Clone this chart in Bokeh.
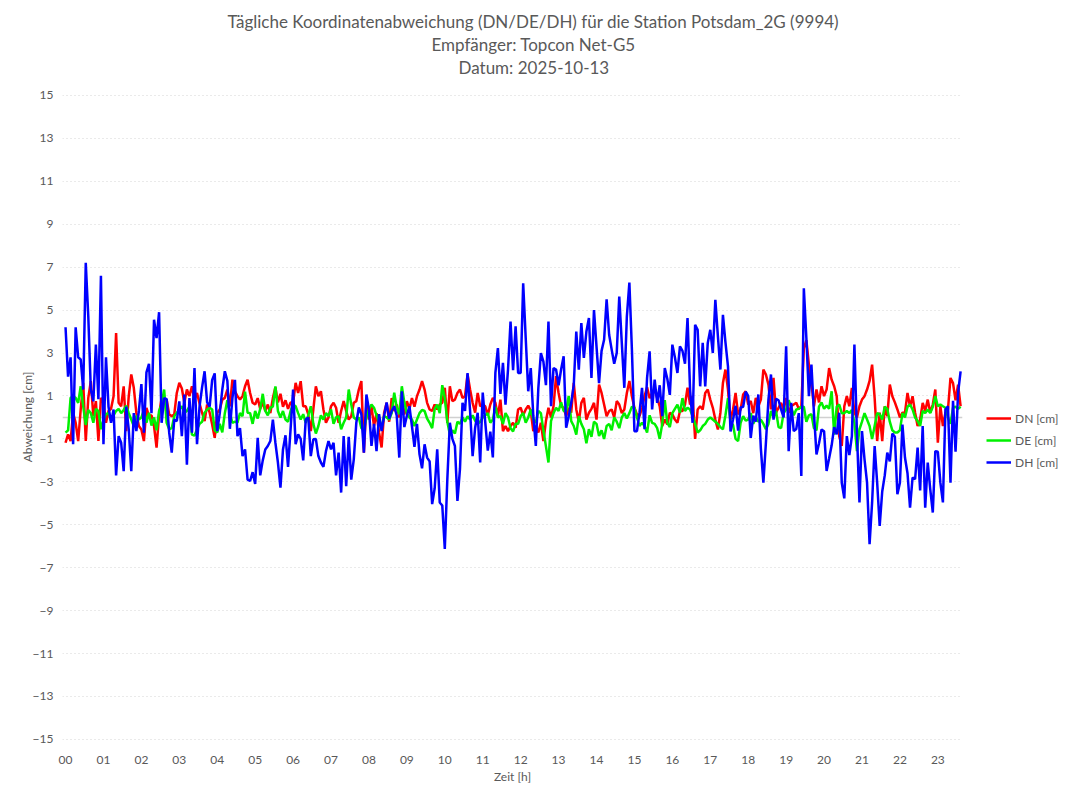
import numpy as np
from bokeh.plotting import figure
from bokeh.models import (Range1d, FixedTicker, Legend, LegendItem, Span, Title,
                          ColumnDataSource, LinearAxis)
from bokeh.embed import file_html
from bokeh.resources import INLINE

# ---------------- data (4-minute samples, 00:00 .. 23:36) ----------------
step_minutes = 4
hour_labels = ["%02d" % h for h in range(24)]
y_ticks = list(range(-15, 16, 2))

title_lines = [
    "Tägliche Koordinatenabweichung (DN/DE/DH) für die Station Potsdam_2G (9994)",
    "Empfänger: Topcon Net-G5",
    "Datum: 2025-10-13",
]
series_names = ["DN [cm]", "DE [cm]", "DH [cm]"]

DN = [
    -1.18, -0.79, -1.1, 0.22, -0.25, -1.1, 0.37, 1.61, -1.1, 0.91, 1.69, 0.06, 0.76, -1.1, 0.91,
    0.68, -0.25, 0.3, 0.4, 0.99, 3.93, 0.68, 0.52, 1.45, -0.64, 0.99, 2.0, 1.38, 0.22, -0.4,
    -0.56, -1.1, 0.45, 0.06, 0.1, -0.4, -1.41, 0.14, 0.91, 0.85, 0.83, 0.14, 0.06, 0.14, 1.14,
    1.61, 1.35, 0.68, 1.3, 0.99, 1.45, 0.83, 1.14, 0.65, 0.22, -0.17, 0.6, 0.22, -0.33, -0.95,
    0.22, 0.37, 0.83, 0.91, 1.3, 0.52, 1.76, 1.22, 0.99, 0.83, 0.99, 1.45, 1.76, 1.14, 0.68,
    0.6, 0.9, 0.4, 0.7, 0.3, 0.6, 0.2, 0.9, 1.4, 0.7, 1.1, 0.5, 0.8, 0.4, 0.7,
    0.68, 1.61, 1.14, 1.69, 0.52, 0.52, 0.14, -0.64, 0.37, 1.45, 0.99, 1.22, 0.37, -0.25, 0.0,
    0.52, 0.68, 0.45, -0.25, 0.3, 0.76, 0.3, -0.1, 0.06, 0.68, 0.76, 1.3, 1.69, -1.64, 0.68,
    -0.1, 0.5, -0.4, 0.2, -0.71, -1.4, 0.22, 0.68, -0.2, 0.9, 0.3, 0.6, 0.0, 0.5, 0.14,
    0.76, 0.4, 0.9, 0.5, 0.99, 1.3, 1.69, 1.3, 0.68, 0.37, 0.3, 0.6, 0.37, 0.6, 0.68,
    1.38, -0.25, 1.45, 0.76, 0.83, 1.14, 1.3, 0.91, 0.99, 2.0, 1.3, 0.68, 0.22, 1.14, 0.52,
    0.6, 0.52, 0.1, 0.6, 0.91, 0.68, 0.06, 0.83, -0.64, -0.4, -0.64, -0.4, -0.25, -0.48, 0.37,
    0.45, 0.1, 0.37, 0.55, 0.3, -0.64, -0.4, -0.7, -0.25, -1.1, -0.17, 0.45, 0.0, 0.52, 1.92,
    1.14, 0.52, 0.45, 0.06, 0.45, 0.22, 1.61, 0.37, -0.2, 0.68, 0.91, -0.1, 0.22, 0.4, 0.68,
    -0.1, 1.53, 1.14, 0.6, 0.06, 0.3, 0.37, 0.0, 0.76, 0.6, 0.2, 0.37, 1.14, 1.7, 0.99,
    0.45, 0.14, 0.06, 0.45, 0.99, 1.4, 0.9, 1.14, 1.3, 0.91, 0.52, -0.4, -0.1, -0.33, 0.22,
    0.14, -0.1, -0.25, 0.3, 0.3, 0.6, 1.38, 0.6, 0.99, -1.0, 0.37, 0.52, 0.37, 1.14, 1.3,
    0.83, 0.45, -0.1, -0.56, 0.22, 1.6, 2.23, 1.3, -0.1, 0.37, 1.14, 0.14, 0.37, 1.07, 1.22,
    0.6, 0.76, 0.2, 0.91, 0.5, 0.83, 2.23, 2.0, 1.53, 0.37, 1.84, 0.22, 0.45, 0.68, 0.37,
    0.91, 0.22, 0.52, 0.6, 0.68, 0.4, 0.52, 3.2, 3.6, 2.46, 1.6, 0.52, 1.3, 0.7, 1.45,
    0.99, 1.3, 2.3, 1.76, 1.45, 0.99, -0.87, -1.33, 0.52, 0.99, 0.52, 1.38, 0.22, 0.0, 0.52,
    0.83, 0.99, 1.3, 1.7, 2.46, 0.91, -1.1, 0.22, -1.1, 0.52, 0.06, 1.53, 0.99, 0.7, 0.37,
    0.0, 0.22, 0.22, 1.14, 0.5, 0.99, 0.22, -0.4, -0.1, 0.68, 0.3, 0.83, 0.22, 0.6, 1.3,
    -1.18, 0.52, -0.4, 0.22, 0.37, 1.84, 1.6, 0.8, 1.53, 0.52,
]

DE = [
    -0.71, -0.6, 0.91, 0.99, 0.91, 0.68, 1.45, 0.5, -0.35, 0.35, 0.2, -0.25, 0.4, 0.3, -0.55,
    -0.1, 0.15, 0.22, -0.15, 0.1, 0.3, 0.4, 0.2, 0.35, 0.55, 0.2, -0.1, -0.4, 0.08, -0.1,
    0.0, 0.35, -0.25, 0.22, -0.38, 0.0, -0.6, 0.3, 0.6, 1.3, -0.25, -0.55, -0.5, 0.06, 0.22,
    0.37, 0.52, 0.22, 0.3, 0.5, -0.8, -0.85, -0.55, -0.3, -0.2, 0.22, 0.37, 0.45, 0.37, -0.6,
    -0.7, -0.3, -0.7, 0.2, 0.8, 0.2, -0.25, -0.2, -0.25, 0.2, 0.06, 1.2, 0.22, 0.2, -0.3,
    0.3, -0.05, 0.4, 1.1, 0.3, 0.1, 0.45, 0.5, 1.45, 0.3, 0.0, 0.3, -0.1, -0.2, 0.3,
    0.6, 0.52, 0.2, -0.1, 0.15, -0.25, 0.1, 0.52, -0.3, -0.75, -0.4, 0.1, -0.1, 0.2, 0.06,
    0.37, -0.3, 0.0, 0.06, -0.55, -0.25, 0.0, 1.3, 0.6, 0.0, -0.1, 0.0, -0.5, -0.6, 0.0,
    0.37, 0.6, 0.45, 0.1, -0.25, -0.45, 0.06, 0.0, -0.1, 0.2, 1.15, 0.45, 0.15, 1.45, 0.7,
    0.2, 0.0, -0.1, -0.4, -0.1, 0.2, 0.35, 0.3, -0.05, -0.25, -0.5, 0.4, 0.6, 0.2, 1.5,
    0.9, -0.2, -0.8, -0.6, -0.75, -0.2, -0.3, 0.0, -0.2, 0.06, -0.1, 0.1, -0.15, -0.3, -0.2,
    0.0, 0.1, 0.2, -0.25, -0.1, 0.5, 0.0, 0.06, -0.3, 0.2, 0.0, -0.5, -0.65, -0.3, -0.3,
    0.06, 0.2, -0.25, 0.0, 0.37, -0.1, -0.25, 0.3, 0.2, -0.6, -1.35, -2.1, -0.17, 0.2, 0.45,
    0.3, 0.7, 0.3, 0.3, 1.0, -0.17, -0.4, -0.8, 0.06, -0.3, -0.55, -1.2, -0.55, -0.9, -0.2,
    -0.3, -0.87, -0.6, -1.0, -0.4, -0.3, -0.6, 0.0, -0.2, -0.5, 0.0, 0.2, -0.05, 0.2, 0.5,
    0.45, 0.0, -0.4, -0.25, -0.4, -0.7, 0.1, -0.25, -0.3, -0.5, -1.0, -0.3, 0.8, -0.25, -0.45,
    0.2, 0.4, 0.6, 0.22, 0.9, 0.3, 0.45, 0.37, 0.06, -0.3, -0.7, -0.6, -0.4, -0.3, -0.1,
    0.0, -0.1, -0.2, -0.3, -0.45, -0.55, 0.1, 0.9, -0.2, -0.35, -1.0, -1.1, -0.25, 0.06, -0.15,
    -0.1, 0.2, -0.3, 0.0, -0.2, -0.1, -0.3, -0.55, -0.3, 0.3, 0.0, 0.3, -0.45, -0.5, 0.2,
    0.37, 0.8, 0.45, 0.1, 0.37, 0.4, 0.5, 0.5, -0.2, 0.1, 0.15, -0.5, -0.6, 0.5, 0.7,
    0.4, 0.55, 0.4, 1.22, -0.8, 0.5, 0.6, 0.2, 0.2, 0.3, 0.2, 0.35, -0.25, -1.57, -0.55,
    -0.2, 0.2, -0.1, -0.4, -1.0, -0.4, 0.2, 0.15, -0.1, 0.5, 0.4, -0.2, -0.6, -0.7, -0.7,
    -0.6, 0.2, 0.0, 0.5, 0.6, 0.37, 0.0, -0.17, -0.4, 0.3, 0.2, 0.37, 0.2, 0.5, 1.0,
    0.52, 0.6, 0.52, 0.45, 0.0, -0.3, 0.45, 0.5, 0.4, 0.5,
]

DH = [
    4.2, 1.9, 2.8, -1.25, 4.2, 2.8, 2.7, 1.3, 7.2, 4.7, 1.3, 0.75, 3.4, 0.85, 6.6,
    -1.25, 2.8, 0.5, -0.25, 0.37, -2.7, -0.87, -1.18, -2.5, 0.5, -0.56, -2.5, 0.2, -0.64, 0.3,
    1.55, -0.71, 2.1, 2.5, 0.2, 4.55, 3.7, 4.9, -0.25, 0.9, 0.85, -0.71, -1.64, -0.1, -0.17,
    0.75, -0.87, 1.07, -2.2, 0.9, -0.71, 2.3, -1.25, 0.5, 1.4, 2.15, 0.7, 0.5, 1.75, 2.05,
    -0.64, 0.2, 1.3, 2.15, 1.7, -0.53, 0.9, 1.75, -0.87, -0.5, -1.8, -1.49, -2.9, -2.96, -2.55,
    -3.1, -0.95, -2.7, -2.0, -1.49, -1.33, -1.1, -0.1, -1.18, -2.1, -3.27, -1.49, -0.83, -2.3, -0.56,
    1.3, -1.25, -0.79, -1.0, -2.0, -0.1, 0.0, -1.8, -1.02, -1.0, -1.8, -2.1, -2.3, -1.57, -1.1,
    -1.49, -1.18, -2.7, -1.64, -3.5, -0.87, -3.2, -0.9, -2.9, -1.95, -0.25, 0.46, 0.15, -1.64, 1.07,
    0.37, -1.33, -0.3, -1.57, 0.15, -0.64, 0.08, 0.7, -0.05, 0.3, 0.52, 0.08, -1.87, 1.22, -0.45,
    0.08, 0.52, -0.4, -1.37, -0.3, -1.72, -2.37, -1.25, -1.87, -2.05, -4.04, -3.3, -1.49, -3.96, -4.1,
    -6.13, -2.88, -0.25, -1.0, -1.33, -3.89, -2.4, 0.68, 0.3, 2.07, 0.3, -1.8, -0.48, 0.22, -2.1,
    1.16, -0.23, -1.55, -0.66, -1.86, 2.07, 3.23, 1.1, 2.54, 0.6, 2.23, 4.47, 2.2, 4.24, 2.07,
    2.07, 6.25, 3.7, 1.22, 2.3, 0.08, -1.33, 1.38, 3.0, 2.6, 1.5, 4.47, 0.52, 2.3, 2.23,
    1.5, 2.23, 2.85, -0.48, 0.06, 0.68, 1.5, 4.0, 2.23, 4.4, 2.77, 4.0, 4.63, 1.84, 5.0,
    3.31, 1.6, 3.1, 3.62, 5.5, 3.85, 3.16, 2.5, 3.0, 5.63, 3.47, 1.38, 4.7, 6.28, 3.16,
    -0.64, -0.64, 0.22, 1.38, -0.55, 1.84, 3.08, 0.37, 1.76, 0.68, 1.5, 0.06, 2.3, 1.8, 1.05,
    3.39, 2.8, 2.07, 3.31, 3.1, 2.5, 4.63, 1.3, -0.25, 4.32, 4.08, 1.45, 3.47, 1.45, 3.47,
    4.08, 3.0, 5.48, 3.8, 2.23, 4.78, 3.5, 2.38, -0.65, -0.1, 0.54, -0.62, 0.46, 0.5, 1.2,
    1.0, -0.95, 0.08, -0.2, 1.07, -1.45, -3.04, -1.18, 0.83, 2.0, -0.1, 0.87, 0.8, 0.37, 0.0,
    3.31, -1.57, 0.68, -0.64, -0.54, 0.2, -2.73, 6.02, 3.7, 0.99, 2.46, 0.2, -1.72, -1.2, -0.56,
    -0.64, -2.49, -1.9, -1.3, -0.45, -0.79, 0.22, -3.04, -3.77, -0.87, -1.75, -0.87, 3.39, -0.71, -3.96,
    -0.64, -1.95, -3.04, -5.9, -3.96, -1.33, -3.04, -5.05, -3.45, -2.7, -1.64, -2.05, -0.75, -0.9, -3.58,
    -3.04, -0.33, -1.87, -2.6, -4.2, -2.8, -2.88, -1.41, -3.4, -0.4, -4.2, -2.1, -3.35, -4.43, -1.57,
    -1.6, -3.04, -3.96, 0.37, 0.52, -3.04, 0.77, -1.6, 1.14, 2.15,
]

hours = np.arange(len(DH)) * step_minutes / 60.0
src = ColumnDataSource(data=dict(t=hours, dn=DN, de=DE, dh=DH))

# ---------------- figure ----------------
TXT = "#595959"
FONT = "Lato"

p = figure(frame_width=900, frame_height=647,
           output_backend="svg", toolbar_location=None,
           x_range=Range1d(-0.08, 23.65), y_range=Range1d(-15.05, 15.09),
           min_border_left=62, min_border_right=90, min_border_top=93,
           min_border_bottom=45)
p.outline_line_color = None
p.background_fill_color = "white"
p.border_fill_color = "white"

xax = p.below[0]
yax = p.left[0]

# invisible spacer between the title block and the plot frame:
# one hidden tick with an empty label, its (invisible) tick length gives the gap
spacer = LinearAxis(ticker=FixedTicker(ticks=[0]), axis_line_color=None,
                    major_tick_line_color=None, minor_tick_line_color=None,
                    major_tick_out=16, major_tick_in=0, minor_tick_out=0,
                    minor_tick_in=0, major_label_standoff=0,
                    major_label_overrides={0: ""},
                    major_label_text_font_size="1px")
p.add_layout(spacer, "above")

# left-aligned titles, shifted so that each line is centred on the whole chart
title_offsets = [165, 369, 396]
for line, off in reversed(list(zip(title_lines, title_offsets))):
    p.add_layout(Title(text=line, align="left", offset=off, text_font=FONT,
                       text_font_size="17px", text_font_style="normal",
                       text_color=TXT, standoff=0), "above")

xax.ticker = FixedTicker(ticks=list(range(24)))
xax.major_label_overrides = {i: lab for i, lab in enumerate(hour_labels)}
yax.ticker = FixedTicker(ticks=y_ticks)

for ax in (xax, yax):
    ax.axis_line_color = None
    ax.major_tick_line_color = None
    ax.minor_tick_line_color = None
    ax.major_tick_out = 0
    ax.major_tick_in = 0
    ax.minor_tick_out = 0
    ax.minor_tick_in = 0
    ax.major_label_text_color = TXT
    ax.major_label_text_font = FONT
    ax.major_label_text_font_size = "12px"
    ax.axis_label_text_color = TXT
    ax.axis_label_text_font = FONT
    ax.axis_label_text_font_size = "12px"
    ax.axis_label_text_font_style = "normal"

xax.axis_label = "Zeit [h]"
yax.axis_label = "Abweichung [cm]"
xax.major_label_standoff = 15
xax.axis_label_standoff = 2
yax.major_label_standoff = 9
yax.axis_label_standoff = -5

p.xgrid.grid_line_color = None
p.ygrid.grid_line_color = "#d4d4d4"
p.ygrid.grid_line_dash = "1 3"
p.ygrid.grid_line_width = 1

p.add_layout(Span(location=0, dimension="width", line_color="#d0d0d0",
                  line_width=1.5, level="underlay"))

r_dn = p.line("t", "dn", source=src, line_color="#ff0000", line_width=2.5)
r_de = p.line("t", "de", source=src, line_color="#00f000", line_width=2.5)
r_dh = p.line("t", "dh", source=src, line_color="#0000ff", line_width=2.5)

legend = Legend(items=[LegendItem(label=series_names[0], renderers=[r_dn]),
                       LegendItem(label=series_names[1], renderers=[r_de]),
                       LegendItem(label=series_names[2], renderers=[r_dh])],
                location=(24, 268), margin=0, padding=0, spacing=2,
                glyph_width=25, glyph_height=20, label_height=20,
                label_standoff=4, label_text_font=FONT,
                label_text_font_size="12px", label_text_color=TXT,
                border_line_color=None, background_fill_alpha=0)
p.add_layout(legend, "right")

open("out.html", "w").write(file_html(p, INLINE))
